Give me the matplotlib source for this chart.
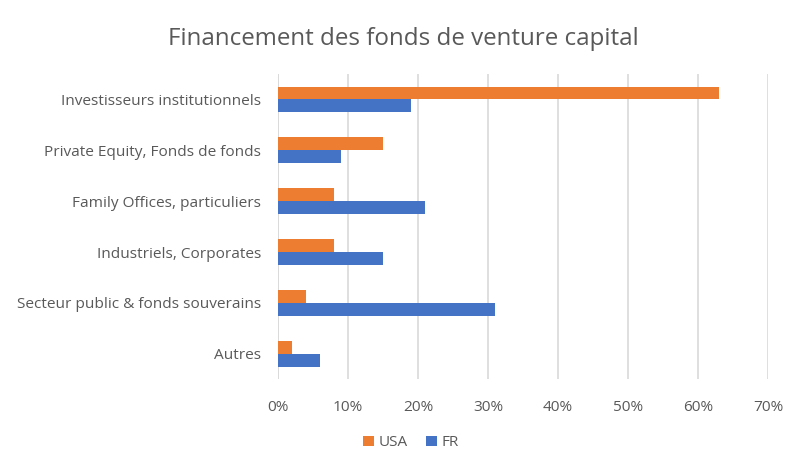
import matplotlib
matplotlib.use("Agg")
import matplotlib.pyplot as plt
import numpy as np
from matplotlib.ticker import FuncFormatter

categories = ["Investisseurs institutionnels", "Private Equity, Fonds de fonds",
              "Family Offices, particuliers", "Industriels, Corporates",
              "Secteur public & fonds souverains", "Autres"]
usa = [63, 15, 8, 8, 4, 2]
fr = [19, 9, 21, 15, 31, 6]
xticks = [0, 10, 20, 30, 40, 50, 60, 70]

plt.rcParams['font.family'] = ['Open Sans', 'DejaVu Sans']
text_color = '#595959'

fig = plt.figure(figsize=(8.06, 4.73), dpi=100)
ax = fig.add_axes([0.345, 0.198, 0.608, 0.646])

y = np.arange(len(categories))
h = 0.25
ax.barh(y - h/2, usa, height=h, color='#ED7D31', label='USA', zorder=3)
ax.barh(y + h/2, fr, height=h, color='#4472C4', label='FR', zorder=3)

ax.set_ylim(len(categories) - 0.5, -0.5)
ax.set_xlim(0, 70)
ax.set_xticks(xticks)
ax.xaxis.set_major_formatter(FuncFormatter(lambda v, p: f"{int(v)}%"))
ax.set_yticks(y)
ax.set_yticklabels(categories)
ax.grid(axis='x', color='#D9D9D9', linewidth=1.2, zorder=0)
for s in ax.spines.values():
    s.set_visible(False)
ax.axvline(0, color='#D9D9D9', linewidth=1.2, zorder=1)
ax.tick_params(axis='both', length=0, labelsize=11.1, colors=text_color)
ax.tick_params(axis='x', pad=15)
ax.tick_params(axis='y', pad=12)

fig.suptitle("Financement des fonds de venture capital", y=0.942, fontsize=17.4, color=text_color)

leg = fig.legend(loc='center', bbox_to_anchor=(0.51, 0.064), ncol=2, frameon=False,
                 fontsize=11, handlelength=0.7, handleheight=0.7, handletextpad=0.3,
                 columnspacing=1.2)
for t in leg.get_texts():
    t.set_color(text_color)

fig.savefig("out.png", dpi=100)
